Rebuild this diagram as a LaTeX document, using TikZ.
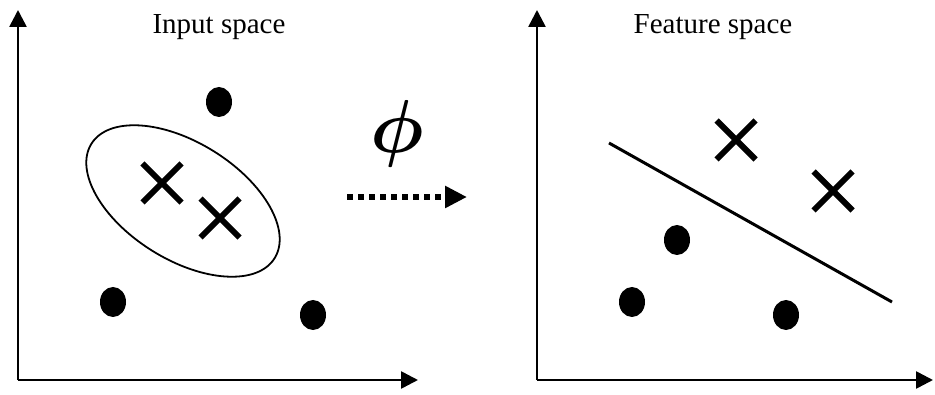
\documentclass[tikz,border=0pt]{standalone}
\usepackage{fontspec}
\setmainfont{Liberation Serif}
\usepackage{graphicx}
\usetikzlibrary{arrows.meta,shapes.geometric,shapes.misc}
\tikzset{
  axis/.style={line width=2.6pt, -{Triangle[length=17pt,width=17pt]}},
  dot/.style={ellipse, fill=black, minimum width=26pt, minimum height=30pt, inner sep=0pt},
  xmark/.style={cross out, draw=black, line width=6pt, minimum size=33pt, inner sep=0pt},
  title/.style={font=\fontsize{29}{32}\selectfont, anchor=base},
  blob/.style={ellipse, draw=black, line width=1.8pt, minimum width=216pt, minimum height=117pt, rotate=-32},
  sep/.style={line width=3pt},
  maparrow/.style={line width=6pt, dash pattern=on 6pt off 5pt, -{Triangle[length=22pt,width=21pt]}, shorten >=-2pt}
}
\begin{document}
\begin{tikzpicture}[x=1pt,y=1pt]
\useasboundingbox (0,0) rectangle (935,394);
% left axes
\coordinate (O1) at (18,14);
\coordinate (Y1) at (18,384);
\coordinate (X1) at (418,14);
\draw[axis] (O1) -- (Y1);
\draw[axis] (O1) -- (X1);
% right axes
\coordinate (O2) at (537,14);
\coordinate (Y2) at (537,384);
\coordinate (X2) at (933,14);
\draw[axis] (O2) -- (Y2);
\draw[axis] (O2) -- (X2);
% titles
\node[title] (tin) at (219,360) {Input space};
\node[title] (tfe) at (713,360) {Feature space};
% input space
\node[blob] (el) at (183,193) {};
\node[dot] (d1) at (219,292) {};
\node[dot] (d2) at (113,92) {};
\node[dot] (d3) at (313,79) {};
\node[xmark] (x1) at (162,211) {};
\node[xmark] (x2) at (220,176) {};
% mapping
\node[inner sep=0pt] (phi) at (397,260) {\scalebox{7.5}{\boldmath$\phi$}};
\coordinate (ma) at (347,197);
\coordinate (mb) at (465,197);
\draw[maparrow] (ma) -- (mb);
% feature space
\node[dot] (f1) at (677,154) {};
\node[dot] (f2) at (632,92) {};
\node[dot] (f3) at (786,79) {};
\node[xmark] (y1) at (736,254) {};
\node[xmark] (y2) at (833,203) {};
\coordinate (la) at (609,251);
\coordinate (lb) at (892,92);
\draw[sep] (la) -- (lb);
\end{tikzpicture}
\end{document}
